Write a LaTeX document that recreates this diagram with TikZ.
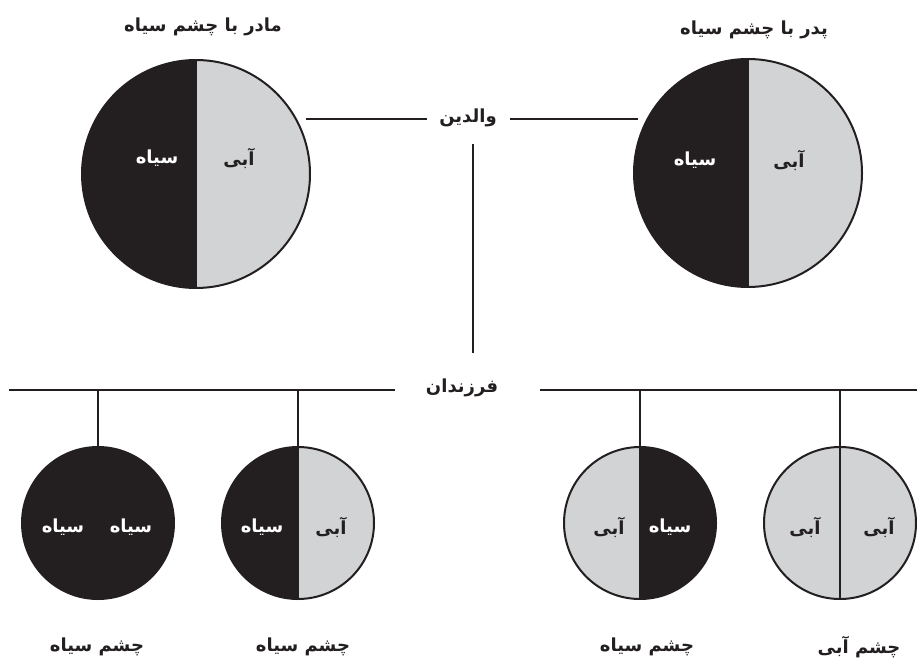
\documentclass[tikz,border=0pt]{standalone}
\usepackage{fontspec}
\TeXXeTstate=1
\newfontfamily\fa[Script=Arabic]{DejaVu Sans}
\definecolor{inkdark}{HTML}{231F20}
\definecolor{eyegray}{HTML}{D1D3D4}
\newcommand{\fatext}[1]{\fa\bfseries\beginR #1\endR}
\begin{document}
\begin{tikzpicture}[x=1pt,y=1pt,
  eye/.style 2 args={circle, draw=inkdark, line width=2pt, inner sep=0pt,
    path picture={
      \fill[#1] (path picture bounding box.south west) rectangle (path picture bounding box.north);
      \fill[#2] (path picture bounding box.south) rectangle (path picture bounding box.north east);
      \draw[inkdark, line width=2pt] (path picture bounding box.south) -- (path picture bounding box.north);}},
  parent/.style={minimum size=228pt},
  child/.style={minimum size=152pt},
  lbl/.style={font=\fontsize{18}{21}\selectfont, text=inkdark, inner sep=1pt},
  wlbl/.style={font=\fontsize{18}{21}\selectfont, text=white, inner sep=1pt},
  link/.style={draw=inkdark, line width=2pt}]
\useasboundingbox (0,0) rectangle (917,665);
% parents
\node[eye={inkdark}{eyegray}, parent] (mother) at (196,491) {};
\node[eye={inkdark}{eyegray}, parent] (father) at (748,492) {};
\node[lbl] (mtitle) at (203,638) {\fatext{مادر با چشم سیاه}};
\node[lbl] (ftitle) at (754,635) {\fatext{پدر با چشم سیاه}};
\node[wlbl] at (157,507) {\fatext{سیاه}};
\node[lbl] at (239,507) {\fatext{آبی}};
\node[wlbl] at (695,505) {\fatext{سیاه}};
\node[lbl] at (789,505) {\fatext{آبی}};
% parents link
\node[lbl] (valedin) at (468,547) {\fatext{والدین}};
\coordinate (ml) at (306,546);
\coordinate (mr) at (427,546);
\coordinate (fl) at (510,546);
\coordinate (fr) at (638,546);
\coordinate (vtop) at (473,521);
\coordinate (vbot) at (473,312);
\draw[link] (ml) -- (mr);
\draw[link] (fl) -- (fr);
\draw[link] (vtop) -- (vbot);
% children
\node[lbl] (farzand) at (462,277) {\fatext{فرزندان}};
\coordinate (bl) at (9,275);
\coordinate (bm) at (395,275);
\coordinate (bn) at (540,275);
\coordinate (br) at (917,275);
\draw[link] (bl) -- (bm);
\draw[link] (bn) -- (br);
\node[eye={inkdark}{inkdark}, child] (c1) at (98,142) {};
\node[eye={inkdark}{eyegray}, child] (c2) at (298,142) {};
\node[eye={eyegray}{inkdark}, child] (c3) at (640,142) {};
\node[eye={eyegray}{eyegray}, child] (c4) at (840,142) {};
\foreach \c in {c1,c2,c3,c4}{\draw[link] (\c.north) -- (\c.north |- bl);}
\node[wlbl] at (63,138) {\fatext{سیاه}};
\node[wlbl] at (131,138) {\fatext{سیاه}};
\node[wlbl] at (262,138) {\fatext{سیاه}};
\node[lbl] at (331,138) {\fatext{آبی}};
\node[lbl] at (609,138) {\fatext{آبی}};
\node[wlbl] at (670,138) {\fatext{سیاه}};
\node[lbl] at (805,138) {\fatext{آبی}};
\node[lbl] at (879,138) {\fatext{آبی}};
\node[lbl] (l1) at (97,18) {\fatext{چشم سیاه}};
\node[lbl] (l2) at (303,18) {\fatext{چشم سیاه}};
\node[lbl] (l3) at (647,18) {\fatext{چشم سیاه}};
\node[lbl] (l4) at (859,18) {\fatext{چشم آبی}};
\end{tikzpicture}
\end{document}
